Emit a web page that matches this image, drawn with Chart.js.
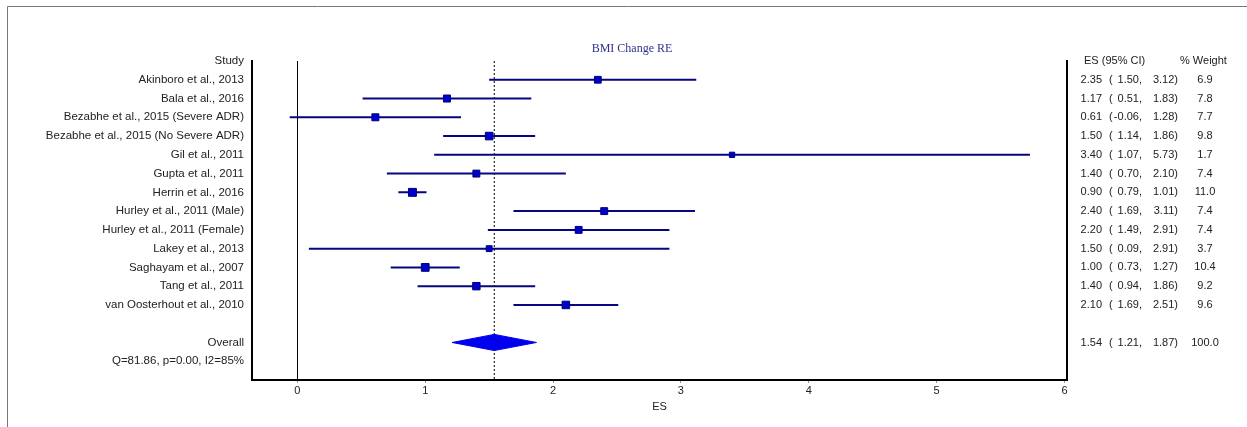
<!DOCTYPE html>
<html><head><meta charset="utf-8">
<script src="https://cdn.jsdelivr.net/npm/chart.js@4.4.0/dist/chart.umd.min.js"></script>
<style>html,body{margin:0;padding:0;background:#fff;overflow:hidden}</style>
</head><body>
<canvas id="c" width="1247" height="427"></canvas>
<script>
const studies = [
  'Akinboro et al., 2013',
  'Bala et al., 2016',
  'Bezabhe et al., 2015 (Severe ADR)',
  'Bezabhe et al., 2015 (No Severe ADR)',
  'Gil et al., 2011',
  'Gupta et al., 2011',
  'Herrin et al., 2016',
  'Hurley et al., 2011 (Male)',
  'Hurley et al., 2011 (Female)',
  'Lakey et al., 2013',
  'Saghayam et al., 2007',
  'Tang et al., 2011',
  'van Oosterhout et al., 2010'
];
const es      = [2.35, 1.17, 0.61, 1.50, 3.40, 1.40, 0.90, 2.40, 2.20, 1.50, 1.00, 1.40, 2.10];
const ciLow   = [1.50, 0.51, -0.06, 1.14, 1.07, 0.70, 0.79, 1.69, 1.49, 0.09, 0.73, 0.94, 1.69];
const ciHigh  = [3.12, 1.83, 1.28, 1.86, 5.73, 2.10, 1.01, 3.11, 2.91, 2.91, 1.27, 1.86, 2.51];
const weights = [6.9, 7.8, 7.7, 9.8, 1.7, 7.4, 11.0, 7.4, 7.4, 3.7, 10.4, 9.2, 9.6];
const overallEs = 1.54, overallLow = 1.21, overallHigh = 1.87, overallWeight = 100.0;
const heterogeneity = 'Q=81.86, p=0.00, I2=85%';
const xTicks = [0, 1, 2, 3, 4, 5, 6];
const chartTitle = 'BMI Change RE';
const xTitle = 'ES';
const headerStudy = 'Study';
const headerEs = 'ES (95% CI)';
const headerWeight = '% Weight';
const overallLabel = 'Overall';

// row layout (row index on the y axis)
const overallRow = studies.length + 2;
const hetRow = overallRow + 1;
const lastRow = hetRow + 1;
const rowLabels = [headerStudy, ...studies, '', overallLabel, heterogeneity];

const FONT = '"Liberation Sans", Arial, sans-serif';
const DIAMOND_HALF = 0.43;

const ciData = [];
studies.forEach((s, i) => {
  ciData.push({x: ciLow[i], y: i + 1}, {x: ciHigh[i], y: i + 1}, {x: NaN, y: NaN});
});
const pointData = studies.map((s, i) => ({x: es[i], y: i + 1}));
const diamond = [
  {x: overallLow, y: overallRow},
  {x: overallEs, y: overallRow - DIAMOND_HALF},
  {x: overallHigh, y: overallRow},
  {x: overallEs, y: overallRow + DIAMOND_HALF},
  {x: overallLow, y: overallRow}
];
const refLine = [{x: overallEs, y: 0}, {x: overallEs, y: lastRow}];

const fmt = v => v.toFixed(2);

const decor = {
  id: 'decor',
  beforeDraw(chart) {
    const ctx = chart.ctx;
    ctx.save();
    ctx.fillStyle = '#fff';
    ctx.fillRect(0, 0, chart.width, chart.height);
    ctx.strokeStyle = '#777';
    ctx.lineWidth = 1;
    ctx.beginPath();
    ctx.moveTo(7.5, chart.height);
    ctx.lineTo(7.5, 6.5);
    ctx.lineTo(chart.width, 6.5);
    ctx.stroke();
    ctx.restore();
  },
  afterDraw(chart) {
    const ctx = chart.ctx;
    const y = chart.scales.y;
    const area = chart.chartArea;
    ctx.save();
    // title
    ctx.fillStyle = '#30308f';
    ctx.font = '12px "Liberation Serif", "Times New Roman", serif';
    ctx.textAlign = 'center';
    ctx.textBaseline = 'middle';
    ctx.fillText(chartTitle, 632, 49);
    // right columns
    ctx.fillStyle = '#222';
    ctx.font = '11px ' + FONT;
    const x0 = area.right;
    const top = y.getPixelForValue(0);
    ctx.textAlign = 'left';
    ctx.fillText(headerEs, x0 + 17, top);
    ctx.fillText(headerWeight, x0 + 113, top);
    const row = (r, e, l, h, w) => {
      const py = y.getPixelForValue(r);
      ctx.textAlign = 'right';
      ctx.fillText(fmt(e), x0 + 35, py);
      ctx.textAlign = 'left';
      ctx.fillText('(', x0 + 42, py);
      ctx.textAlign = 'right';
      ctx.fillText(fmt(l) + ',', x0 + 75, py);
      ctx.fillText(fmt(h) + ')', x0 + 111, py);
      ctx.textAlign = 'center';
      ctx.fillText(w.toFixed(1), x0 + 138, py);
    };
    studies.forEach((s, i) => row(i + 1, es[i], ciLow[i], ciHigh[i], weights[i]));
    row(overallRow, overallEs, overallLow, overallHigh, overallWeight);
    ctx.restore();
  }
};

new Chart(document.getElementById('c'), {
  type: 'scatter',
  data: {
    datasets: [
      {
        type: 'line', data: refLine, borderColor: '#000', borderWidth: 1,
        borderDash: [2, 2], pointRadius: 0, fill: false, order: 5
      },
      {
        type: 'line', data: ciData, borderColor: '#06067e', borderWidth: 2,
        pointRadius: 0, spanGaps: false, fill: false, order: 3
      },
      {
        type: 'scatter', data: pointData, pointStyle: 'rect',
        pointRadius: c => 3.4 + 0.2 * weights[c.dataIndex],
        backgroundColor: '#0000cc', borderColor: '#00007a', borderWidth: 1, order: 1
      },
      {
        type: 'line', data: diamond, borderColor: '#0000ee', backgroundColor: '#0000ee',
        borderWidth: 1, pointRadius: 0, fill: 'shape', tension: 0, order: 2
      }
    ]
  },
  options: {
    responsive: false,
    animation: false,
    devicePixelRatio: 1,
    layout: {padding: {left: 0, right: 180, top: 61, bottom: 0}},
    plugins: {legend: {display: false}, tooltip: {enabled: false}, title: {display: false}},
    scales: {
      x: {
        type: 'linear', min: -0.355, max: 6.02, position: 'bottom',
        afterBuildTicks: s => { s.ticks = xTicks.map(v => ({value: v})); },
        afterFit: s => { s.height = 47; },
        border: {display: true, color: '#000', width: 2},
        grid: {
          display: true, drawOnChartArea: true, drawTicks: true, tickLength: 3,
          color: c => (c.tick && c.tick.value === 0) ? '#000' : 'rgba(0,0,0,0)',
          tickColor: '#999', lineWidth: 1
        },
        ticks: {color: '#222', font: {family: FONT, size: 11}, padding: 1, maxRotation: 0, autoSkip: false},
        title: {display: true, text: xTitle, color: '#222', font: {family: FONT, size: 11}, padding: {top: 0, bottom: 13}}
      },
      y: {
        type: 'linear', reverse: true, min: 0, max: lastRow, position: 'left',
        afterBuildTicks: s => { s.ticks = rowLabels.map((t, i) => ({value: i})); },
        afterFit: s => { s.width = 252; },
        border: {display: true, color: '#000', width: 2},
        grid: {display: false, drawTicks: false},
        ticks: {
          color: '#222', font: {family: FONT, size: 11.5}, padding: 8, autoSkip: false,
          callback: (v) => rowLabels[v] !== undefined ? rowLabels[v] : ''
        }
      },
      yR: {
        type: 'linear', reverse: true, min: 0, max: lastRow, position: 'right',
        afterFit: s => { s.width = 0; },
        border: {display: true, color: '#000', width: 2},
        grid: {display: false, drawTicks: false},
        ticks: {display: false}
      }
    }
  },
  plugins: [decor]
});
</script>
</body></html>
